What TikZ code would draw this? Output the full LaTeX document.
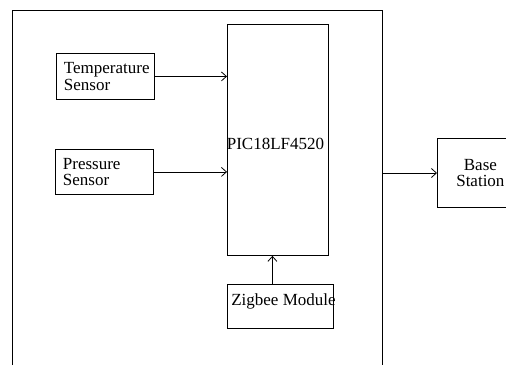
\documentclass[tikz,border=0pt]{standalone}
\usepackage{fontspec}
\setmainfont{Liberation Serif}
\usetikzlibrary{arrows.meta}
\begin{document}
\begin{tikzpicture}[x=1pt,y=-1pt,line width=0.8pt,line join=miter,>={Straight Barb[length=5pt,width=9pt]},
	font=\fontsize{17}{16.5}\selectfont,
	sensorbox/.style={draw,rectangle,anchor=north west,inner xsep=7.5pt,inner ysep=0pt,text width=83pt,align=left},
	blk/.style={draw,rectangle,anchor=north west,inner sep=0pt}]
	\clip (0,0) rectangle (506,365);
	\path
	(12,365) coordinate (fbl)
	(12,10) coordinate (ftl)
	(382,10) coordinate (ftr)
	(382,365) coordinate (fbr)
	(382,173) coordinate (out)
	;
	% frame of the sensor unit, open at the bottom
	\draw (fbl)--(ftl)--(ftr)--(fbr);
	\node[sensorbox,minimum height=46pt] (temp) at (56,53) {Temperature\\Sensor};
	\node[sensorbox,minimum height=45pt] (pres) at (55,149) {Pressure\\Sensor};
	\node[blk,minimum width=101pt,minimum height=231pt] (pic) at (227,24) {};
	\node (piclabel) at (275.5,143.5) {PIC18LF4520};
	\node[blk,minimum width=106pt,minimum height=44pt] (zig) at (227,284) {};
	\node (ziglabel) at (283.5,301) {Zigbee Module};
	\node[blk,minimum width=86pt,minimum height=69pt,align=center] (base) at (437,138) {Base\\Station};
	\draw[->] (temp.east) -- (temp.east -| pic.west);
	\draw[->] (pres.east) -- (pres.east -| pic.west);
	\draw[->] ([xshift=-8pt]zig.north) -- ([xshift=-8pt]zig.north |- pic.south);
	\draw[->] (out) -- (out -| base.west);
\end{tikzpicture}
\end{document}
